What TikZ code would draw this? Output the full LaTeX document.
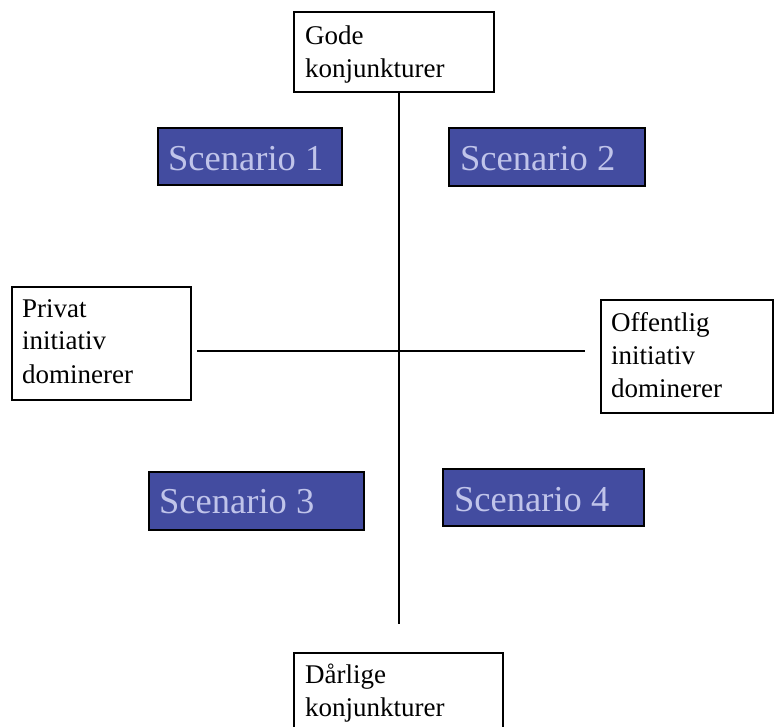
\documentclass[tikz,border=0pt]{standalone}
\usepackage{fontspec}
\setmainfont{Liberation Serif}
\definecolor{scenfill}{RGB}{67,76,160}
\definecolor{scentext}{RGB}{192,196,234}
\begin{document}
\begin{tikzpicture}[x=1pt,y=-1pt,
  wbox/.style={draw=black,line width=1.8pt,fill=white,inner sep=0pt,anchor=north west},
  sbox/.style={draw=black,line width=2pt,fill=scenfill,inner sep=0pt,anchor=north west},
  lbl/.style={inner sep=0pt,anchor=base west,align=left,font=\fontsize{27}{33}\selectfont},
  slbl/.style={inner sep=0pt,anchor=base west,text=scentext,font=\fontsize{36.5}{40}\selectfont},
  axis/.style={draw=black,line width=2pt}]
\useasboundingbox (0,0) rectangle (774,727);
\clip (0,0) rectangle (774,727);
% axes
\coordinate (vtop) at (398.5,90);
\coordinate (vbot) at (398.5,624);
\coordinate (hl) at (197,351);
\coordinate (hr) at (585,351);
\draw[axis] (vtop) -- (vbot);
\draw[axis] (hl) -- (hr);
% white boxes
\node[wbox,minimum width=200,minimum height=80] (gode) at (293,11) {};
\node[lbl] (godeT) at (305,78) {Gode\\konjunkturer};
\node[wbox,minimum width=179,minimum height=113] (privat) at (11,286) {};
\node[lbl] (privatT) at (22,383) {Privat\\initiativ\\dominerer};
\node[wbox,minimum width=172,minimum height=113] (off) at (600,299) {};
\node[lbl] (offT) at (611,397) {Offentlig\\initiativ\\dominerer};
\node[wbox,minimum width=209,minimum height=100] (darlig) at (293,652) {};
\node[lbl] (darligT) at (305,716) {Dårlige\\konjunkturer};
% scenario boxes
\node[sbox,minimum width=184,minimum height=57] (s1) at (157,127) {};
\node[slbl] (s1T) at (168,171) {Scenario 1};
\node[sbox,minimum width=196,minimum height=58] (s2) at (448,127) {};
\node[slbl] (s2T) at (460,171) {Scenario 2};
\node[sbox,minimum width=215,minimum height=58] (s3) at (148,471) {};
\node[slbl] (s3T) at (159,513) {Scenario 3};
\node[sbox,minimum width=201,minimum height=57] (s4) at (442,468) {};
\node[slbl] (s4T) at (454,511) {Scenario 4};
\end{tikzpicture}
\end{document}
